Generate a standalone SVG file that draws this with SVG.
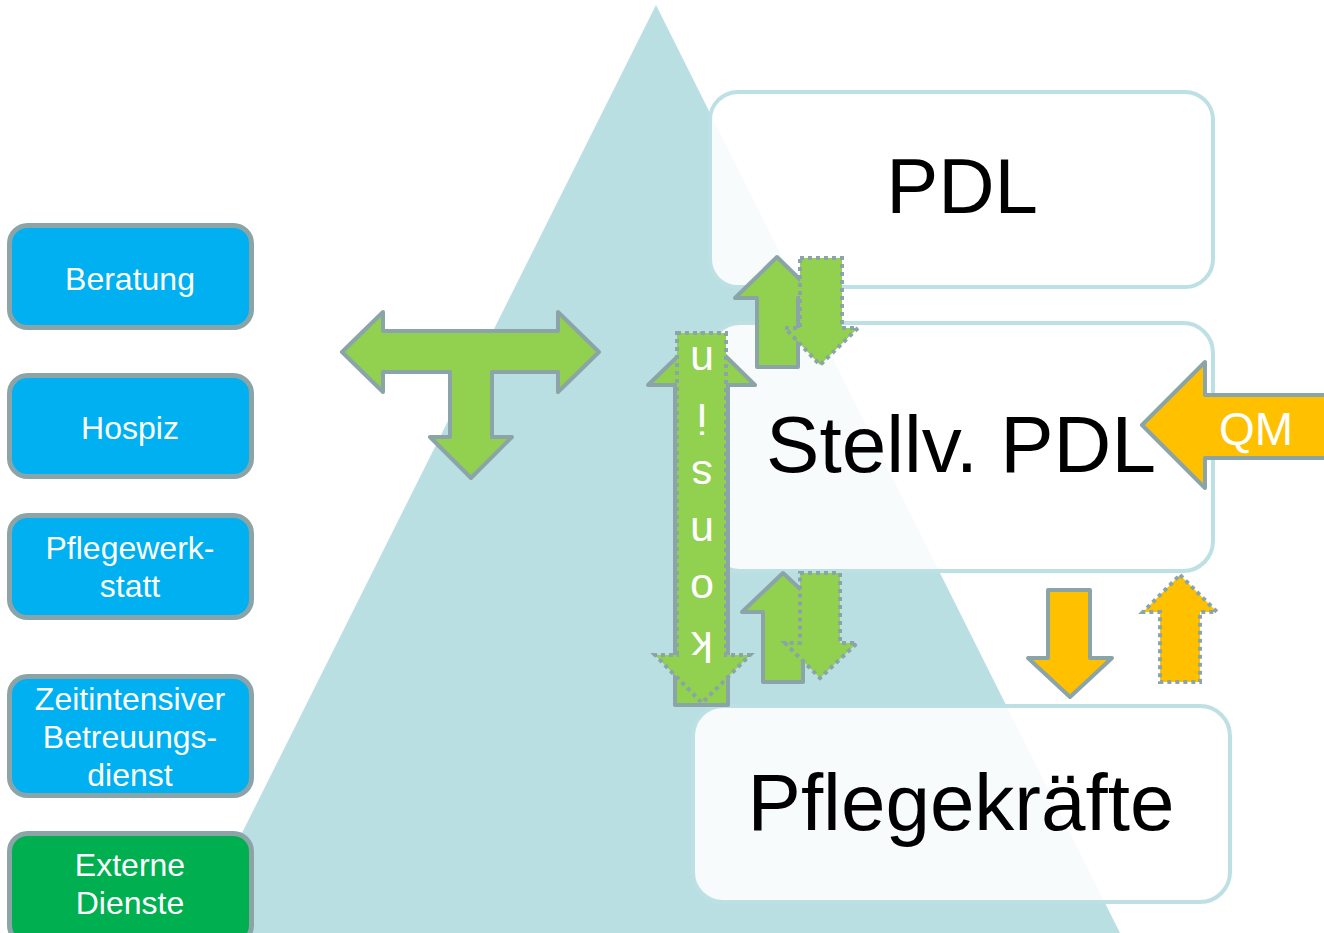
<svg xmlns="http://www.w3.org/2000/svg" width="1324" height="933" viewBox="0 0 1324 933">
<style>
.tri{fill:#b9dfe3}
.lvl{fill:#ffffff;fill-opacity:0.88;stroke:#bde0e4;stroke-width:4}
.lvlt{font-family:"Liberation Sans",Arial,sans-serif;fill:#000;text-anchor:middle}
.side{stroke:#8aa4a8;stroke-width:5}
.blue{fill:#00b0f0}
.dgreen{fill:#00b050}
.st{font-family:"Liberation Sans",Arial,sans-serif;font-size:32px;fill:#fff;text-anchor:middle}
.g{fill:#92d050}
.o{fill:#ffc000}
.solid{stroke:#8aa4a8;stroke-width:4;stroke-linejoin:round}
.dot{stroke:#8aa4a8;stroke-width:4;stroke-dasharray:4 4}
.wt{font-family:"Liberation Sans",Arial,sans-serif;fill:#fff;text-anchor:middle}
</style>
<rect width="1324" height="933" fill="#ffffff"/>
<polygon class="tri" points="656,5 1120,933 192,933"/>

<g id="node-pdl">
<rect class="lvl" x="710" y="92" width="503" height="195" rx="28"/>
<text class="lvlt" font-size="78" x="962" y="213">PDL</text>
</g>
<g id="node-stellv">
<rect class="lvl" x="710" y="323" width="503" height="248" rx="30"/>
<text class="lvlt" font-size="80" x="961" y="472">Stellv. PDL</text>
</g>
<g id="node-pflegekraefte">
<rect class="lvl" x="693" y="706" width="537" height="196" rx="30"/>
<text class="lvlt" font-size="80" x="961" y="830">Pflegekräfte</text>
</g>

<g id="node-beratung">
<rect class="side blue" x="9.5" y="225.5" width="242" height="102" rx="18"/>
<text class="st" x="130" y="290">Beratung</text>
</g>
<g id="node-hospiz">
<rect class="side blue" x="9.5" y="375.5" width="242" height="101" rx="18"/>
<text class="st" x="130" y="439">Hospiz</text>
</g>
<g id="node-pflegewerkstatt">
<rect class="side blue" x="9.5" y="515.5" width="242" height="102" rx="18"/>
<text class="st" x="130" y="559">Pflegewerk-</text>
<text class="st" x="130" y="597">statt</text>
</g>
<g id="node-zeitintensiv">
<rect class="side blue" x="9.5" y="676.5" width="242" height="119" rx="18"/>
<text class="st" x="130" y="710">Zeitintensiver</text>
<text class="st" x="130" y="748">Betreuungs-</text>
<text class="st" x="130" y="786">dienst</text>
</g>
<g id="node-extern">
<rect class="side dgreen" x="9.5" y="833.5" width="242" height="110" rx="18"/>
<text class="st" x="130" y="876">Externe</text>
<text class="st" x="130" y="914">Dienste</text>
</g>

<g id="connectors">
<polygon class="g solid" points="342,352 383,312 383,331 558,331 558,312 599,352 558,392 558,372 492,372 492,437 512,437 471,478 430,437 450,437 450,372 383,372 383,392"/>

<polygon class="g solid" points="702,333 755,385 728,385 728,705 675,705 675,385 648,385"/>
<polygon class="g dot" points="677,333 726,333 726,655 750,655 702,703 655,655 677,655"/>
<text class="wt" font-size="43" transform="rotate(180 702 500)">
<tspan x="702" y="368">k</tspan><tspan x="702" y="425">o</tspan><tspan x="702" y="482">n</tspan><tspan x="702" y="539">s</tspan><tspan x="702" y="596">i</tspan><tspan x="702" y="653">n</tspan>
</text>

<polygon class="g solid" points="777,257 819,298 798,298 798,367 757,367 757,298 735,298"/>
<polygon class="g dot" points="800,258 842,258 842,328 858,328 820,365 785,328 800,328"/>

<polygon class="g solid" points="783,573 825,612 803,612 803,682 763,682 763,612 742,612"/>
<polygon class="g dot" points="800,573 840,573 840,643 857,643 820,678 785,643 800,643"/>

<polygon class="o solid" points="1142,425 1205,362 1205,395 1330,395 1330,458 1205,458 1205,488"/>
<text class="wt" font-size="46" x="1256" y="445">QM</text>

<polygon class="o solid" points="1048,590 1090,590 1090,658 1112,658 1070,697 1028,658 1048,658"/>
<polygon class="o dot" points="1180,575 1217,612 1200,612 1200,682 1160,682 1160,612 1143,612"/>
</g>
</svg>
